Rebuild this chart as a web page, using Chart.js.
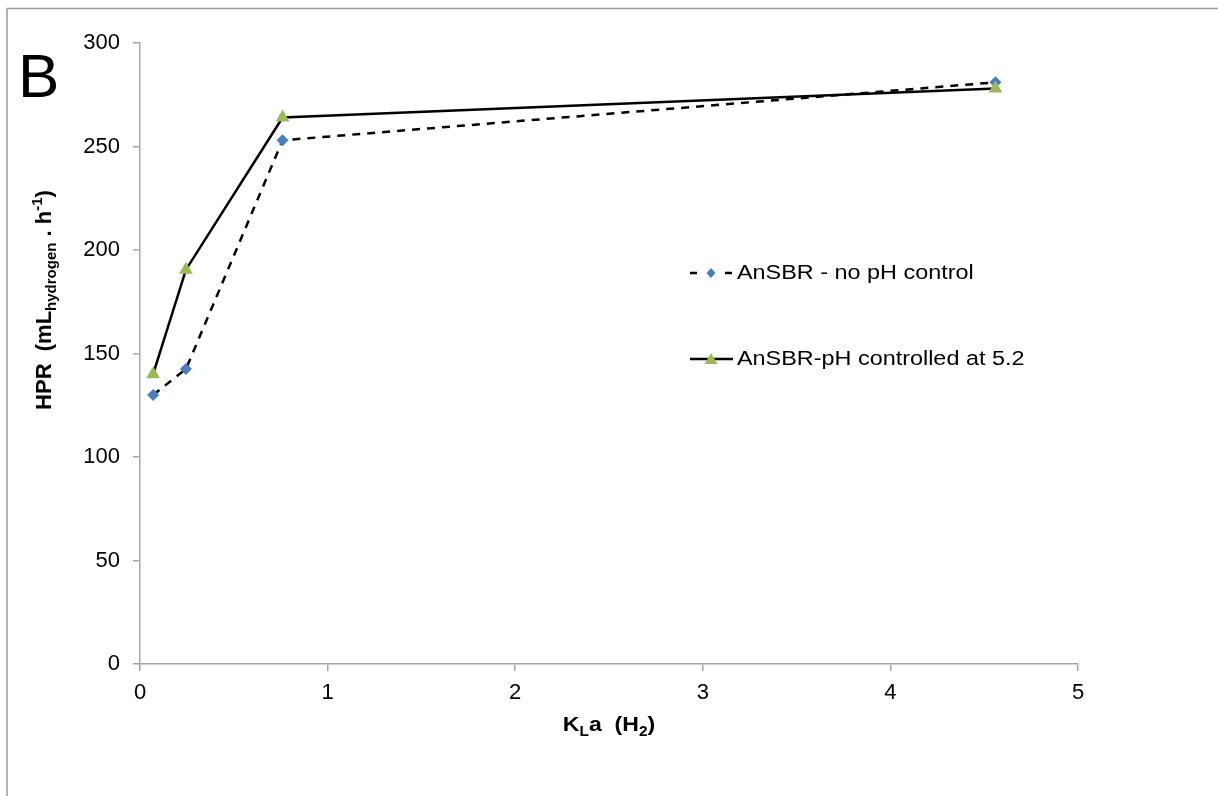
<!DOCTYPE html>
<html>
<head>
<meta charset="utf-8">
<script src="https://cdn.jsdelivr.net/npm/chart.js@4.4.1/dist/chart.umd.min.js"></script>
<style>
   html, body { margin: 0; padding: 0; background: #ffffff; }
   #chart-div { position: relative; width: 1218px; height: 796px; }
</style>
</head>
<body>
<div id="chart-div"><canvas id="hprChart"></canvas></div>
<script>
// #region Const Definitions
const FONT_FAMILY = '"Liberation Sans", Arial, sans-serif';
const AXIS_COLOR = '#A6A6A6';
const BLUE = '#4A7EBB';
const GREEN = '#9BBB59';

// KLa (H2) values
const klaValues = [0.07, 0.245, 0.76, 4.56];
// HPR, AnSBR with no pH control
const noPhControl = [130, 142.5, 253, 281];
// HPR, AnSBR with pH held at 5.2
const phControlled = [140, 190.5, 264, 278];

const seriesLabels = ['AnSBR - no pH control', 'AnSBR-pH controlled at 5.2'];
const yTicks = [0, 50, 100, 150, 200, 250, 300];
const xTicks = [0, 1, 2, 3, 4, 5];
// #endregion

// ***********************
// Name:    toPoints
// Purpose: Pairs the x values with one series of y values
// *************************
function toPoints(ys) {
   return klaValues.map((x, i) => ({ x: x, y: ys[i] }));
}

// ***********************
// Name:    drawMarker
// Purpose: Draws the diamond / triangle marker used in the legend
// *************************
function drawMarker(ctx, style, x, y) {
   ctx.save();
   ctx.setLineDash([]);
   if (style === 'diamond') {
      ctx.fillStyle = BLUE;
      ctx.beginPath();
      ctx.moveTo(x, y - 5);
      ctx.lineTo(x + 4.5, y);
      ctx.lineTo(x, y + 5);
      ctx.lineTo(x - 4.5, y);
      ctx.closePath();
      ctx.fill();
   }
   else {
      ctx.fillStyle = GREEN;
      ctx.beginPath();
      ctx.moveTo(x, y - 6);
      ctx.lineTo(x + 6.5, y + 5);
      ctx.lineTo(x - 6.5, y + 5);
      ctx.closePath();
      ctx.fill();
   }
   ctx.restore();
}

// ***********************
// Name:    drawPieces
// Purpose: Writes a run of text pieces (with sub/superscripts) from x along the baseline
// *************************
function drawPieces(ctx, pieces, x) {
   pieces.forEach(function (p) {
      ctx.font = `bold ${p.size}px ${FONT_FAMILY}`;
      ctx.fillText(p.text, x, p.dy);
      x += ctx.measureText(p.text).width;
   });
}

function piecesWidth(ctx, pieces) {
   let w = 0;
   pieces.forEach(function (p) {
      ctx.font = `bold ${p.size}px ${FONT_FAMILY}`;
      w += ctx.measureText(p.text).width;
   });
   return w;
}

// #region Plugins
const framePlugin = {
   id: 'frame',
   beforeDraw(chart) {
      const ctx = chart.ctx;
      ctx.save();
      ctx.strokeStyle = '#9A9A9A';
      ctx.lineWidth = 1.5;
      ctx.beginPath();
      ctx.moveTo(7, 796);
      ctx.lineTo(7, 8.5);
      ctx.lineTo(1218, 8.5);
      ctx.stroke();
      ctx.restore();
   }
};

const decorPlugin = {
   id: 'decor',
   afterDraw(chart) {
      const ctx = chart.ctx;
      ctx.save();
      ctx.fillStyle = '#000000';
      ctx.textBaseline = 'alphabetic';

      // panel letter
      ctx.font = `62px ${FONT_FAMILY}`;
      ctx.fillText('B', 18, 97);

      // x axis title
      const xPieces = [
         { text: 'K', size: 21, dy: 0 },
         { text: 'L', size: 14, dy: 5 },
         { text: 'a  (H', size: 21, dy: 0 },
         { text: '2', size: 14, dy: 5 },
         { text: ')', size: 21, dy: 0 }
      ];
      const xw = piecesWidth(ctx, xPieces) * 1.1;
      ctx.save();
      ctx.translate(609 - xw / 2, 731);
      ctx.scale(1.1, 1);
      drawPieces(ctx, xPieces, 0);
      ctx.restore();

      // y axis title
      const yPieces = [
         { text: 'HPR  (mL', size: 22, dy: 0 },
         { text: 'hydrogen', size: 15, dy: 5 },
         { text: ' . h', size: 22, dy: 0 },
         { text: '-1', size: 15, dy: -9 },
         { text: ')', size: 22, dy: 0 }
      ];
      const yw = piecesWidth(ctx, yPieces);
      ctx.save();
      ctx.translate(51, 300);
      ctx.rotate(-Math.PI / 2);
      drawPieces(ctx, yPieces, -yw / 2);
      ctx.restore();

      // legend
      ctx.strokeStyle = '#000000';
      ctx.lineWidth = 2.5;
      ctx.setLineDash([]);
      ctx.beginPath();
      ctx.moveTo(690, 273);
      ctx.lineTo(697, 273);
      ctx.moveTo(725, 273);
      ctx.lineTo(732, 273);
      ctx.moveTo(690, 359);
      ctx.lineTo(733, 359);
      ctx.stroke();
      drawMarker(ctx, 'diamond', 711, 273);
      drawMarker(ctx, 'triangle', 711, 359);

      ctx.font = `20px ${FONT_FAMILY}`;
      ctx.textBaseline = 'middle';
      [[seriesLabels[0], 273], [seriesLabels[1], 359]].forEach(function (row) {
         ctx.save();
         ctx.translate(737, row[1]);
         ctx.scale(1.17, 1);
         ctx.fillText(row[0], 0, 0);
         ctx.restore();
      });
      ctx.restore();
   }
};
// #endregion

// #region Chart
const groupDatasets = [
   {
      label: seriesLabels[0],
      data: toPoints(noPhControl),
      borderColor: '#000000',
      backgroundColor: BLUE,
      borderWidth: 2.5,
      borderDash: [8, 7],
      pointStyle: 'rectRot',
      pointRadius: 6,
      pointBorderWidth: 0,
      pointBackgroundColor: BLUE,
      tension: 0,
      order: 2
   },
   {
      label: seriesLabels[1],
      data: toPoints(phControlled),
      borderColor: '#000000',
      backgroundColor: GREEN,
      borderWidth: 2.5,
      pointStyle: 'triangle',
      pointRadius: 8,
      pointBorderWidth: 0,
      pointBackgroundColor: GREEN,
      tension: 0,
      order: 1
   }
];

const tickFont = { family: FONT_FAMILY, size: 22 };

const config = {
   type: 'scatter',
   data: { datasets: groupDatasets },
   options: {
      responsive: true,
      maintainAspectRatio: false,
      animation: false,
      showLine: true,
      layout: { padding: { left: 0, top: 43, right: 140, bottom: 0 } },
      plugins: {
         legend: { display: false },
         tooltip: { enabled: false }
      },
      scales: {
         x: {
            type: 'linear',
            min: 0,
            max: 5,
            afterBuildTicks: (scale) => { scale.ticks = xTicks.map(v => ({ value: v })); },
            afterFit: (scale) => { scale.height = 132; },
            border: { display: true, color: AXIS_COLOR, width: 1.5 },
            grid: { drawOnChartArea: false, drawTicks: true, tickLength: 7, color: AXIS_COLOR, lineWidth: 1.5 },
            ticks: { font: tickFont, color: '#000000', padding: 9, maxRotation: 0 }
         },
         y: {
            type: 'linear',
            min: 0,
            max: 300,
            afterBuildTicks: (scale) => { scale.ticks = yTicks.map(v => ({ value: v })); },
            afterFit: (scale) => { scale.width = 140; },
            border: { display: true, color: AXIS_COLOR, width: 1.5 },
            grid: { drawOnChartArea: false, drawTicks: true, tickLength: 7, color: AXIS_COLOR, lineWidth: 1.5 },
            ticks: { font: tickFont, color: '#000000', padding: 13 }
         }
      }
   },
   plugins: [framePlugin, decorPlugin]
};

const myChart = new Chart(document.getElementById('hprChart'), config);
// #endregion
</script>
</body>
</html>
